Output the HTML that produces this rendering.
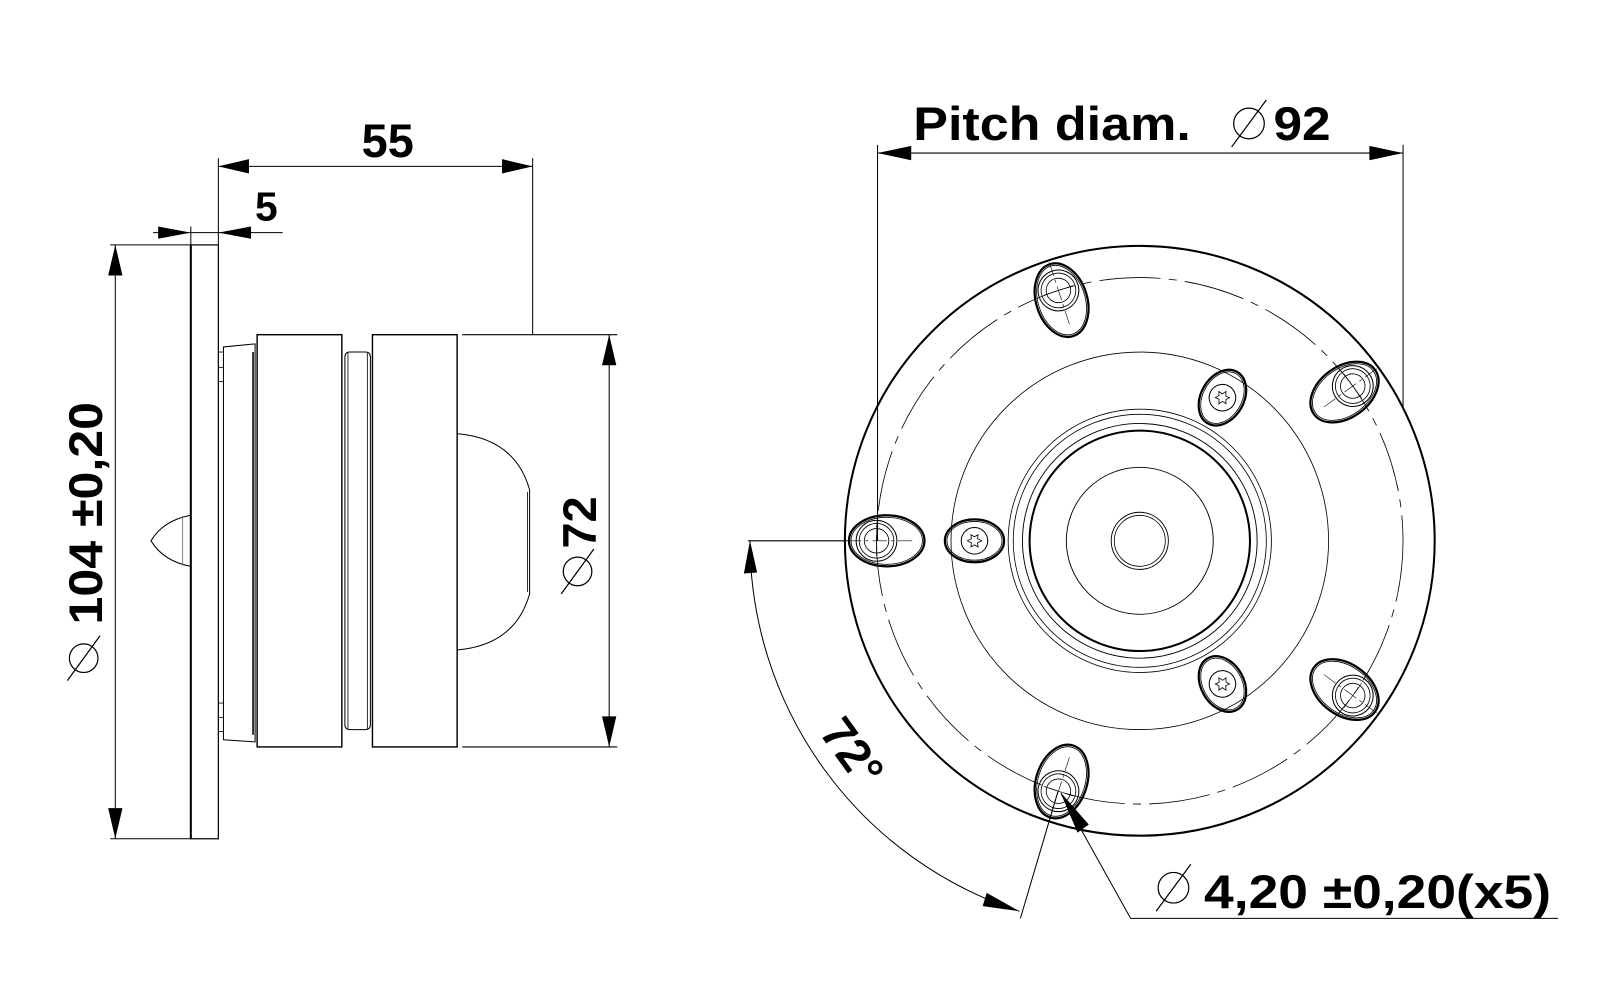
<!DOCTYPE html>
<html><head><meta charset="utf-8"><style>
html,body{margin:0;padding:0;background:#fff}
svg{display:block}
text{font-family:"Liberation Sans","DejaVu Sans",sans-serif;font-weight:bold;fill:#000}
</style></head><body>
<svg width="1600" height="1000" viewBox="0 0 1600 1000" xmlns="http://www.w3.org/2000/svg">
<defs>
<g id="hole" fill="none" stroke="#000">
  <ellipse cx="1365" cy="530" rx="37" ry="25" stroke-width="2.2"/>
  <ellipse cx="1365" cy="530" rx="35" ry="23" stroke-width="0.8"/>
  <circle cx="1375" cy="530" r="20" stroke-width="1"/>
  <circle cx="1375" cy="530" r="17" stroke-width="0.8"/>
  <circle cx="1375" cy="530" r="12" stroke-width="0.8"/>
  <line x1="1340" y1="530" x2="1405" y2="530" stroke-width="0.6" stroke-dasharray="14,4,3,4"/>
  <line x1="1375" y1="515" x2="1375" y2="545" stroke-width="0.6"/>
</g>
<g id="screw" fill="none" stroke="#000">
  <ellipse cx="1279" cy="530" rx="29" ry="21" stroke-width="2.2"/>
  <ellipse cx="1279" cy="530" rx="27" ry="19" stroke-width="0.8"/>
  <circle cx="1279" cy="530" r="13" stroke-width="1"/>
  <polygon points="1286,530 1282,532 1282.5,536 1279,534 1275.5,536 1276,532 1272,530 1276,528 1275.5,524 1279,526 1282.5,524 1282,528" stroke-width="0.8"/>
</g>
</defs>
<g transform="scale(1.0204)">
<g fill="none" stroke="#000">
  <rect x="187" y="240" width="27" height="582" stroke-width="1.2"/>
  <line x1="187" y1="240" x2="187" y2="822" stroke-width="2"/>
  <path d="M187,505 Q160,510 148,530 Q160,550 187,555" stroke-width="1"/>
  <line x1="179" y1="506" x2="179" y2="554" stroke-width="0.8" stroke="#666"/>
  <path d="M219,340 L250,337 L250,727 L219,725 Z" stroke-width="1"/>
  <line x1="214" y1="345" x2="219" y2="345" stroke-width="0.8"/><line x1="214" y1="360" x2="219" y2="360" stroke-width="0.8"/><line x1="214" y1="374" x2="219" y2="374" stroke-width="0.8"/>
  <line x1="214" y1="689" x2="219" y2="689" stroke-width="0.8"/><line x1="214" y1="703" x2="219" y2="703" stroke-width="0.8"/><line x1="214" y1="717" x2="219" y2="717" stroke-width="0.8"/>
  <line x1="248" y1="345" x2="248" y2="720" stroke-width="1.5"/>
  <rect x="252" y="328" width="83" height="404" stroke-width="1.4"/>
  <path d="M338,350 Q338,345 343,345 L358,345 Q363,345 363,350 L363,710 Q363,715 358,715 L343,715 Q338,715 338,710 Z" stroke-width="1"/>
  <line x1="341" y1="346" x2="341" y2="714" stroke-width="0.8"/>
  <line x1="360" y1="346" x2="360" y2="714" stroke-width="0.8"/>
  <rect x="365" y="328" width="83" height="404" stroke-width="1.4"/>
  <path d="M448,425 Q505,430 519,480 L519,582 Q505,632 448,637" stroke-width="1"/>
  <line x1="517" y1="482" x2="517" y2="580" stroke-width="0.8"/>
</g>

<g stroke="#000" stroke-width="1" fill="none">
  <line x1="108" y1="240" x2="187" y2="240"/>
  <line x1="108" y1="822" x2="187" y2="822"/>
  <line x1="113" y1="240" x2="113" y2="822"/>
  <line x1="453" y1="328" x2="605" y2="328"/>
  <line x1="453" y1="732" x2="605" y2="732"/>
  <line x1="597" y1="328" x2="597" y2="732"/>
  <line x1="214" y1="240" x2="214" y2="155"/>
  <line x1="522" y1="328" x2="522" y2="155"/>
  <line x1="214" y1="163" x2="522" y2="163"/>
  <line x1="187" y1="240" x2="187" y2="222"/>
  <line x1="150" y1="228" x2="277" y2="228"/>
</g>
<g fill="#000">
  <polygon points="113,240 106,270 120,270"/>
  <polygon points="113,822 106,792 120,792"/>
  <polygon points="597,328 590,358 604,358"/>
  <polygon points="597,732 590,702 604,702"/>
  <polygon points="214,163 244,156 244,170"/>
  <polygon points="522,163 492,156 492,170"/>
  <polygon points="187,228 155,222 155,234"/>
  <polygon points="214,228 246,222 246,234"/>
</g>
<text x="380" y="154" font-size="46" text-anchor="middle">55</text>
<text x="261" y="216" font-size="40" text-anchor="middle">5</text>
<g transform="translate(100,530) rotate(-90)">
  <text x="-82" y="0" font-size="46" textLength="218" lengthAdjust="spacingAndGlyphs">104 ±0,20</text>
</g>
<g stroke="#000" stroke-width="1.2" fill="none">
  <circle cx="82" cy="645" r="14"/><line x1="66" y1="667" x2="98" y2="623"/>
</g>
<g transform="translate(584,512) rotate(-90)">
  <text x="0" y="0" font-size="46" text-anchor="middle">72</text>
</g>
<g stroke="#000" stroke-width="1.2" fill="none">
  <circle cx="566" cy="560" r="14"/><line x1="550" y1="582" x2="582" y2="538"/>
</g>

<g fill="none" stroke="#000">
  <circle cx="1117" cy="530" r="289" stroke-width="2"/>
  <circle cx="1117" cy="530" r="258" stroke-width="0.8" stroke-dasharray="60,8,8,8"/>
  <circle cx="1117" cy="530" r="185" stroke-width="0.8"/>
  <circle cx="1117" cy="530" r="129" stroke-width="0.8"/>
  <circle cx="1117" cy="530" r="124" stroke-width="0.8"/>
  <circle cx="1117" cy="530" r="115" stroke-width="0.9"/>
  <circle cx="1117" cy="530" r="108" stroke-width="2"/>
  <circle cx="1117" cy="530" r="72" stroke-width="0.9"/>
  <circle cx="1117" cy="530" r="28" stroke-width="0.9"/>
  <circle cx="1117" cy="530" r="25" stroke-width="0.8"/>
</g>
<use href="#hole" transform="rotate(180 1117 530)"/>
<use href="#hole" transform="rotate(108 1117 530)"/>
<use href="#hole" transform="rotate(252 1117 530)"/>
<use href="#hole" transform="rotate(36 1117 530)"/>
<use href="#hole" transform="rotate(324 1117 530)"/>
<use href="#screw" transform="rotate(180 1117 530)"/>
<use href="#screw" transform="rotate(60 1117 530)"/>
<use href="#screw" transform="rotate(300 1117 530)"/>

<g stroke="#000" stroke-width="1" fill="none">
  <line x1="860" y1="142" x2="860" y2="530"/>
  <line x1="1375" y1="142" x2="1375" y2="400"/>
  <line x1="860" y1="150" x2="1375" y2="150"/>
</g>
<polygon points="860,150 893,143 893,157" fill="#000"/>
<polygon points="1375,150 1342,143 1342,157" fill="#000"/>
<text x="895" y="137" font-size="46" textLength="272" lengthAdjust="spacingAndGlyphs">Pitch diam.</text>
<g stroke="#000" stroke-width="1.2" fill="none">
  <circle cx="1224" cy="121" r="15"/><line x1="1207" y1="144" x2="1241" y2="98"/>
</g>
<text x="1248" y="137" font-size="46" textLength="56" lengthAdjust="spacingAndGlyphs">92</text>

<g stroke="#000" stroke-width="1" fill="none">
  <line x1="733" y1="530" x2="830" y2="530"/>
  <line x1="1037" y1="775" x2="1000" y2="900"/>
  <path d="M735,530 A382,382 0 0 0 999,893"/>
</g>
<polygon points="735,530 729,562 742,561" fill="#000"/>
<polygon points="999,893 967,875 963,888" fill="#000"/>
<text transform="translate(802,718) rotate(54)" x="0" y="0" font-size="46" font-weight="normal">72°</text>

<g stroke="#000" stroke-width="1" fill="none">
  <line x1="1040" y1="778" x2="1108" y2="900"/>
  <line x1="1108" y1="900" x2="1527" y2="900"/>
</g>
<polygon points="1039,776 1067,808 1056,816" fill="#000"/>
<g stroke="#000" stroke-width="1.2" fill="none">
  <circle cx="1150" cy="870" r="15"/><line x1="1133" y1="893" x2="1167" y2="847"/>
</g>
<text x="1180" y="890" font-size="46" textLength="340" lengthAdjust="spacingAndGlyphs">4,20 ±0,20(x5)</text>
</g>
</svg>
</body></html>
